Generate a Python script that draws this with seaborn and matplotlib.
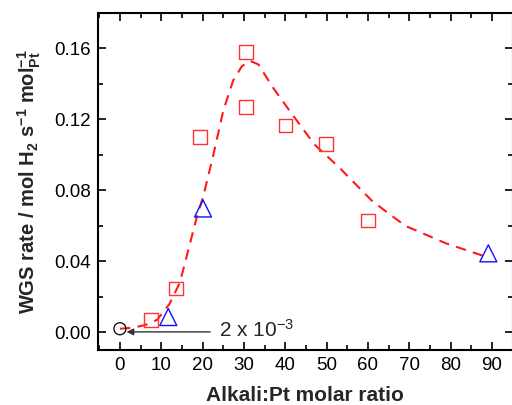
import matplotlib
matplotlib.use("Agg")
import matplotlib.pyplot as plt
from matplotlib.ticker import MultipleLocator
import seaborn as sns
import pandas as pd

# data
sq_ratio = [7.5, 13.6, 19.4, 30.5, 30.5, 40.0, 49.9, 60.0]
sq_rate = [0.007, 0.0246, 0.110, 0.158, 0.127, 0.1166, 0.106, 0.063]

tri_ratio = [11.7, 20.1, 89.1]
tri_rate = [0.0086, 0.0698, 0.0445]

circ_ratio = [0.0]
circ_rate = [0.002]

# dashed guide curve
curve_ratio = [0, 3, 6, 9, 12, 14.5, 16.5, 18.6, 20.2, 22.6, 25, 27.4, 29.5, 31.5,
               33.5, 37, 41, 47, 53, 61, 69, 79, 88]
curve_rate = [0.002, 0.0025, 0.004, 0.007, 0.016, 0.028, 0.046, 0.065, 0.077, 0.100,
              0.125, 0.142, 0.150, 0.153, 0.151, 0.138, 0.125, 0.106, 0.093, 0.074,
              0.060, 0.050, 0.043]

sns.set_style("ticks")
plt.rcParams['font.family'] = ['Liberation Sans', 'DejaVu Sans']
plt.rcParams['mathtext.fontset'] = 'custom'
plt.rcParams['mathtext.rm'] = 'Liberation Sans'
plt.rcParams['mathtext.bf'] = 'Liberation Sans:bold'
plt.rcParams['mathtext.default'] = 'rm'

fig = plt.figure(figsize=(5.12, 4.05), dpi=100)
ax = fig.add_axes([0.1914, 0.1358, 0.8100, 0.8321])

curve = pd.DataFrame({'ratio': curve_ratio, 'rate': curve_rate})
sns.lineplot(data=curve, x='ratio', y='rate', sort=False, estimator=None,
             color='#ff1a1a', lw=1.5, dashes=False, ax=ax, zorder=2)
ax.lines[-1].set_dashes([5, 3.5])

sns.scatterplot(x=sq_ratio, y=sq_rate, marker='s', s=95, facecolors='none',
                edgecolor='#ff3333', linewidth=1.0, ax=ax, zorder=3)
sns.scatterplot(x=tri_ratio, y=tri_rate, marker='^', s=150, facecolors='none',
                edgecolor='#1010ff', linewidth=1.0, ax=ax, zorder=3)
sns.scatterplot(x=circ_ratio, y=circ_rate, marker='o', s=75, facecolors='none',
                edgecolor='black', linewidth=0.9, ax=ax, zorder=3)

ax.annotate('', xy=(1.6, 0.0002), xytext=(21.8, 0.0002),
            arrowprops=dict(arrowstyle='-|>', color='#333333', lw=1.0,
                            mutation_scale=10, shrinkA=0, shrinkB=0))
ax.text(24.0, 0.0015, '2 x 10$^{-3}$', fontsize=15, va='center', ha='left')

ax.set_xlim(-5.3, 95)
ax.set_ylim(-0.01, 0.18)
ax.xaxis.set_major_locator(MultipleLocator(10))
ax.xaxis.set_minor_locator(MultipleLocator(5))
ax.yaxis.set_major_locator(MultipleLocator(0.04))
ax.yaxis.set_minor_locator(MultipleLocator(0.02))
ax.yaxis.set_major_formatter(matplotlib.ticker.FormatStrFormatter('%.2f'))
ax.set_xticks([0, 10, 20, 30, 40, 50, 60, 70, 80, 90])

ax.tick_params(which='both', direction='in', top=True, right=True, width=1.2,
               labelsize=13.5, colors='black')
ax.tick_params(which='major', length=6, pad=5)
ax.tick_params(which='minor', length=3.5)
for sp in ax.spines.values():
    sp.set_visible(True)
    sp.set_linewidth(1.5)
    sp.set_color('black')

ax.set_xlabel('Alkali:Pt molar ratio', fontsize=15, fontweight='bold', labelpad=9)
ax.set_ylabel(r'WGS rate / mol H$_\mathbf{2}$ s$^\mathbf{-1}$ mol$_\mathbf{Pt}^\mathbf{-1}$',
              fontsize=14.5, fontweight='bold', labelpad=8)

fig.savefig('out.png', dpi=100)
